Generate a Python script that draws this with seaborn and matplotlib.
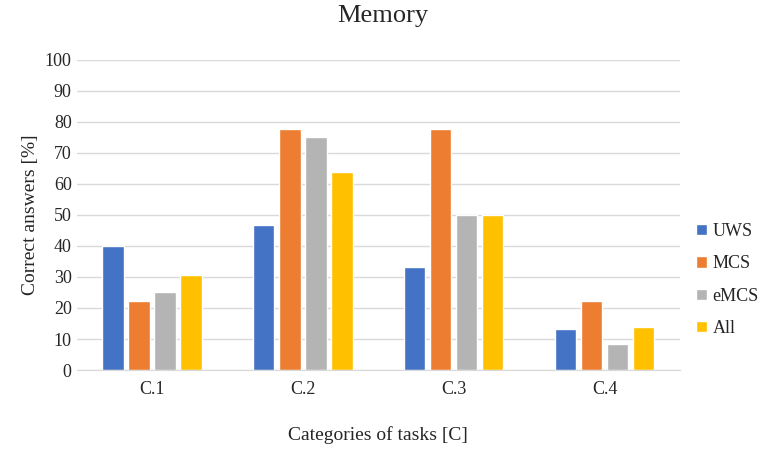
import numpy as np
import pandas as pd
import seaborn as sns
import matplotlib.pyplot as plt

categories = ['C.1', 'C.2', 'C.3', 'C.4']
groups = ['UWS', 'MCS', 'eMCS', 'All']
uws = [40.0, 46.7, 33.3, 13.3]
mcs = [22.2, 77.8, 77.8, 22.2]
emcs = [25.0, 75.0, 50.0, 8.3]
all_ = [30.6, 63.9, 50.0, 13.9]
colors = ['#4472C4', '#ED7D31', '#B4B4B4', '#FFC000']

df = pd.DataFrame({
    'category': categories * 4,
    'group': [g for g in groups for _ in categories],
    'value': uws + mcs + emcs + all_,
})

sns.set_style('white')
plt.rcParams['font.family'] = ['Liberation Serif', 'DejaVu Serif']

fig = plt.figure(figsize=(7.65, 4.54), dpi=100)
ax = fig.add_axes([0.1, 0.185, 0.789, 0.683])

sns.barplot(data=df, x='category', y='value', hue='group', palette=colors,
            width=0.69, gap=0.18, saturation=1, ax=ax, legend=True)

ax.set_ylim(0, 100)
ax.set_yticks(np.arange(0, 101, 10))
ax.yaxis.grid(True, color='#D9D9D9', linewidth=1)
ax.set_axisbelow(True)
for s in ['top', 'right', 'left']:
    ax.spines[s].set_visible(False)
ax.spines['bottom'].set_color('#D9D9D9')
ax.tick_params(axis='both', labelsize=13, length=0, colors='#262626')
ax.tick_params(axis='x', pad=8)
ax.set_xlabel('Categories of tasks [C]', fontsize=14, labelpad=20)
ax.set_ylabel('Correct answers [%]', fontsize=14)
fig.suptitle('Memory', fontsize=19, y=0.99)

ax.legend(loc='center left', bbox_to_anchor=(1.0, 0.29), frameon=False,
          fontsize=13, handlelength=0.6, handleheight=0.6, labelspacing=0.85,
          handletextpad=0.3)

fig.savefig('out.png', dpi=100)
